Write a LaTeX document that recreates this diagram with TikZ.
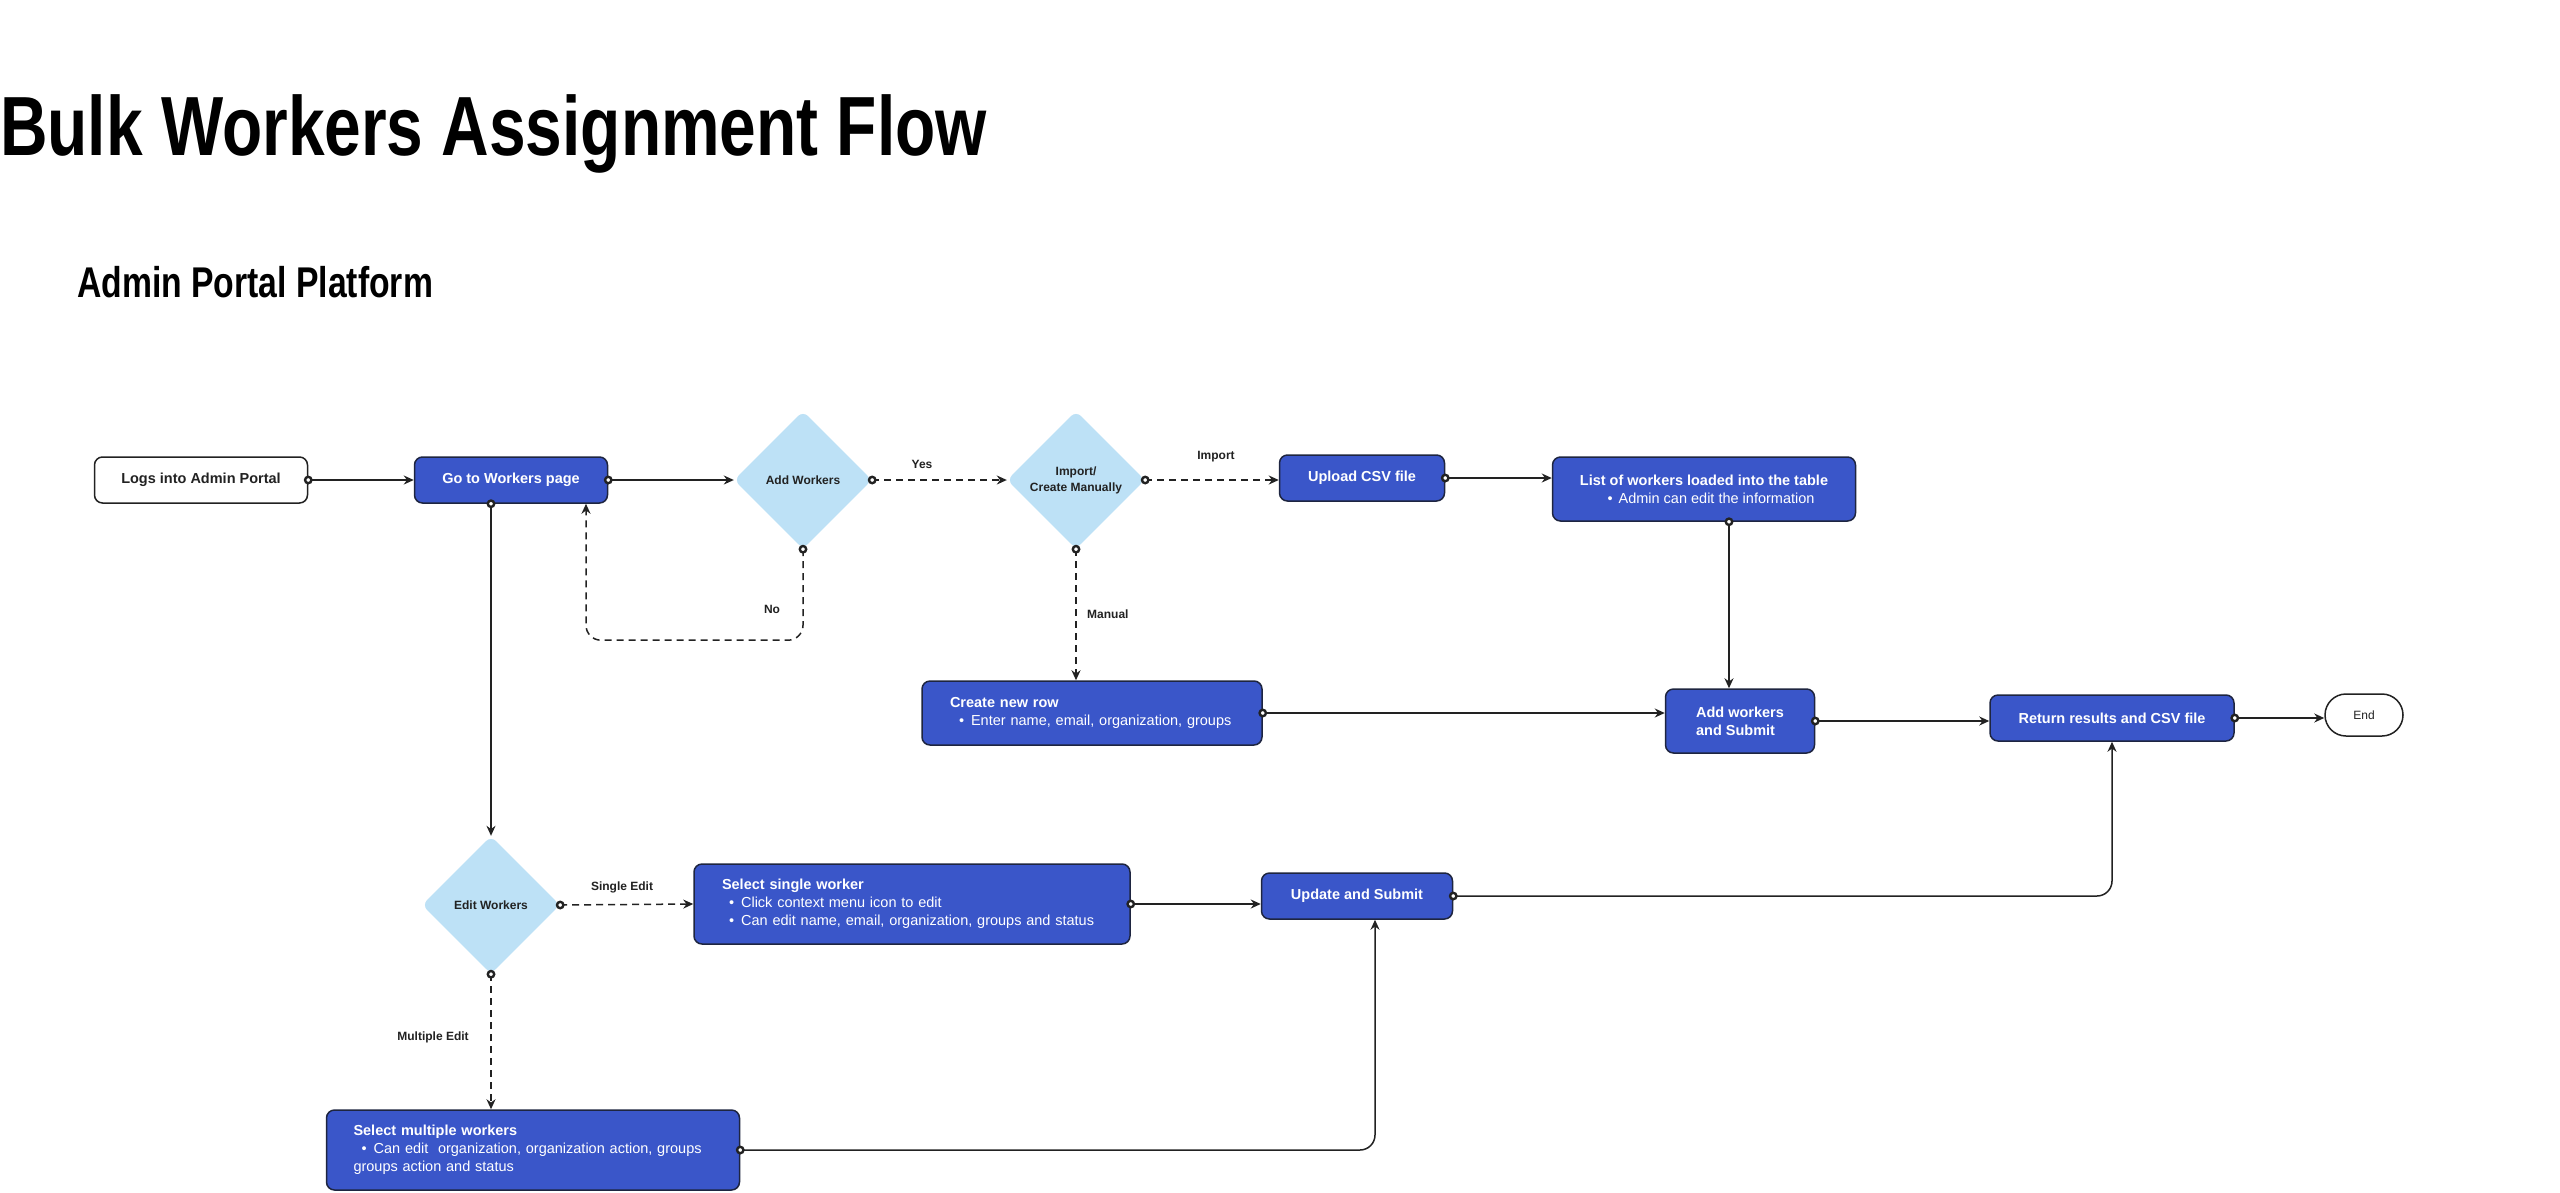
\documentclass[tikz,border=0pt]{standalone}
\usepackage{fontspec}
\setmainfont{Liberation Sans}
\usetikzlibrary{shapes.geometric,arrows.meta}
\definecolor{boxblue}{HTML}{3A56C9}
\definecolor{boxedge}{HTML}{1E2540}
\definecolor{diafill}{HTML}{BDE1F6}
\definecolor{ink}{HTML}{222222}
\begin{document}
\begin{tikzpicture}[x=1pt,y=-1pt,
  boxfont/.style={font=\fontsize{14.5}{18}\selectfont},
  bluebox/.style={draw=boxedge, line width=1.5pt, fill=boxblue, rounded corners=8pt,
    text=white, boxfont, inner sep=0pt, align=center},
  leftbox/.style={bluebox, align=left, inner xsep=28pt},
  whitebox/.style={draw=ink, line width=1.5pt, fill=white, rounded corners=8pt,
    text=ink, boxfont, inner sep=0pt},
  decision/.style={diamond, fill=diafill, rounded corners=7pt, minimum width=138pt,
    minimum height=138pt, inner sep=0pt, text=ink,
    font=\fontsize{12}{16}\selectfont\bfseries, align=center},
  flow/.style={draw=ink, line width=1.5pt, -{Stealth[length=10pt,width=9pt]}},
  dflow/.style={flow, dash pattern=on 7pt off 5pt},
  lbl/.style={font=\fontsize{12}{14}\selectfont\bfseries, text=ink, inner sep=0pt},
  portdot/.style={draw=ink, line width=2.4pt, fill=white}
]
\useasboundingbox (0,0) rectangle (2560,1192);
\fill[white] (0,0) rectangle (2560,1192);

% titles
\node[anchor=base west, inner sep=0pt, font=\fontsize{84}{90}\selectfont\bfseries] (title) at (0,155)
  {\scalebox{0.784}[1]{Bulk Workers Assignment Flow}};
\node[anchor=base west, inner sep=0pt, font=\fontsize{43}{48}\selectfont\bfseries] (subtitle) at (77,297)
  {\scalebox{0.784}[1]{Admin Portal Platform}};

% nodes
\node[whitebox, minimum width=213pt, minimum height=46pt] (logs) at (201,480) {\textbf{Logs into Admin Portal}};
\node[bluebox, minimum width=193pt, minimum height=46pt] (goto) at (511,480) {\textbf{Go to Workers page}};
\node[decision] (addw) at (803,480) {Add Workers};
\node[decision] (imp) at (1076,480) {Import/\\Create Manually};
\node[bluebox, minimum width=165pt, minimum height=46pt] (upload) at (1362,478) {\textbf{Upload CSV file}};
\node[bluebox, minimum width=303pt, minimum height=64pt] (list) at (1704,489)
  {\textbf{List of workers loaded into the table}\\ \hspace*{14pt}•\hspace{6pt}Admin can edit the information};
\node[leftbox, text width=284pt, minimum height=64pt] (newrow) at (1092,713)
  {\textbf{Create new row}\\ \hspace*{9pt}•\hspace{7pt}Enter name, email, organization, groups};
\node[bluebox, align=left, minimum width=149pt, minimum height=64pt] (addsub) at (1740,721)
  {\textbf{Add workers}\\ \textbf{and Submit}};
\node[bluebox, minimum width=244pt, minimum height=46pt] (ret) at (2112,718) {\textbf{Return results and CSV file}};
\node[whitebox, rounded corners=21pt, minimum width=78pt, minimum height=42pt,
  font=\fontsize{12}{14}\selectfont] (end) at (2364,715) {End};
\node[decision] (edit) at (491,905) {Edit Workers};
\node[leftbox, text width=380pt, minimum height=80pt] (single) at (912,904)
  {\textbf{Select single worker}\\ \hspace*{7pt}•\hspace{7pt}Click context menu icon to edit\\ \hspace*{7pt}•\hspace{7pt}Can edit name, email, organization, groups and status};
\node[bluebox, minimum width=191pt, minimum height=46pt] (upd) at (1357,896) {\textbf{Update and Submit}};
\node[leftbox, inner xsep=27pt, text width=359pt, minimum height=80pt] (multi) at (533,1150)
  {\textbf{Select multiple workers}\\ \hspace*{8pt}•\hspace{7pt}Can edit\ \ organization, organization action, groups\\ groups action and status};

% connectors
\draw[flow] (logs.east) -- (goto.west);
\draw[flow] (goto.east) -- (addw.west);
\draw[dflow] (addw.east) -- (imp.west);
\draw[dflow] (imp.east) -- (imp.east -| upload.west);
\draw[flow] (upload.east) -- (upload.east -| list.west);
\draw[flow] ([xshift=25pt]list.south) -- ([xshift=25pt]list.south |- addsub.north);
\draw[dflow] (imp.south) -- (imp.south |- newrow.north);
\draw[flow] (newrow.east) -- (newrow.east -| addsub.west);
\draw[flow] (addsub.east) -- (addsub.east -| ret.west);
\draw[flow] (ret.east) -- (ret.east -| end.west);
\draw[dflow, rounded corners=15pt] (addw.south) -- ++(0,91) -| ([xshift=75pt]goto.south);
\draw[flow] (edit.north |- goto.south) -- (edit.north);
\draw[dflow] (edit.east) -- (single.west);
\draw[flow] (single.east) -- (single.east -| upd.west);
\draw[flow, rounded corners=15pt] (upd.east) -| (ret.south);
\draw[dflow] (edit.south) -- (edit.south |- multi.north);
\draw[flow, rounded corners=15pt] (multi.east) -| ([xshift=18pt]upd.south);

% connector start dots
\foreach \p in {logs.east, goto.east, addw.east, addw.south, imp.east, imp.south,
  upload.east, newrow.east, addsub.east, ret.east, edit.east, edit.south,
  single.east, upd.east, multi.east}
  \draw[portdot] (\p) circle (3.2pt);
\draw[portdot] ([xshift=25pt]list.south) circle (3.2pt);
\draw[portdot] (edit.north |- goto.south) circle (3.2pt);

% labels
\node[lbl] (lyes) at (922,464) {Yes};
\node[lbl] (limport) at (1216,457) {Import};
\node[lbl, anchor=west] (lmanual) at (1087,614) {Manual};
\node[lbl] (lno) at (772,609) {No};
\node[lbl] (lsingle) at (622,887) {Single Edit};
\node[lbl] (lmulti) at (433,1037) {Multiple Edit};
\end{tikzpicture}
\end{document}
